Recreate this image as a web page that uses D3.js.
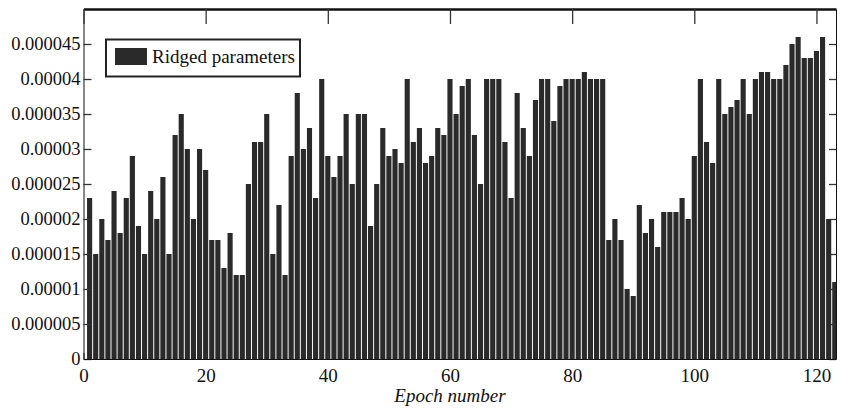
<!DOCTYPE html>
<html>
<head>
<meta charset="utf-8">
<script src="https://cdn.jsdelivr.net/npm/d3@7"></script>
<style>
  body { margin: 0; background: #fff; }
  svg { display: block; font-family: "Liberation Serif", "Times New Roman", serif; }
</style>
</head>
<body>
<svg id="chart"></svg>
<script>
// ridged parameter per epoch
var ridged = [
  23e-6, 15e-6, 20e-6, 17e-6, 24e-6, 18e-6, 23e-6, 29e-6, 19e-6, 15e-6,
  24e-6, 20e-6, 26e-6, 15e-6, 32e-6, 35e-6, 30e-6, 20e-6, 30e-6, 27e-6,
  17e-6, 17e-6, 13e-6, 18e-6, 12e-6, 12e-6, 25e-6, 31e-6, 31e-6, 35e-6,
  15e-6, 22e-6, 12e-6, 29e-6, 38e-6, 30e-6, 33e-6, 23e-6, 40e-6, 29e-6,
  26e-6, 29e-6, 35e-6, 25e-6, 35e-6, 35e-6, 19e-6, 25e-6, 33e-6, 29e-6,
  30e-6, 28e-6, 40e-6, 31e-6, 33e-6, 28e-6, 29e-6, 33e-6, 32e-6, 40e-6,
  35e-6, 39e-6, 40e-6, 32e-6, 25e-6, 40e-6, 40e-6, 40e-6, 31e-6, 23e-6,
  38e-6, 33e-6, 29e-6, 37e-6, 40e-6, 40e-6, 34e-6, 39e-6, 40e-6, 40e-6,
  40e-6, 41e-6, 40e-6, 40e-6, 40e-6, 17e-6, 20e-6, 17e-6, 10e-6, 9e-6,
  22e-6, 18e-6, 20e-6, 16e-6, 21e-6, 21e-6, 21e-6, 23e-6, 20e-6, 29e-6,
  40e-6, 31e-6, 28e-6, 40e-6, 35e-6, 36e-6, 37e-6, 40e-6, 35e-6, 40e-6,
  41e-6, 41e-6, 40e-6, 40e-6, 42e-6, 45e-6, 46e-6, 43e-6, 43e-6, 44e-6,
  46e-6, 20e-6, 11e-6
];
var epochs = ridged.map(function(d, i) { return i + 1; });

var xTicks = [0, 20, 40, 60, 80, 100, 120];
var yTicks = [0, 0.000005, 0.00001, 0.000015, 0.00002, 0.000025, 0.00003, 0.000035, 0.00004, 0.000045];
var yTickLabels = ["0", "0.000005", "0.00001", "0.000015", "0.00002", "0.000025", "0.00003", "0.000035", "0.00004", "0.000045"];
var seriesName = "Ridged parameters";
var xTitle = "Epoch number";

var width = 843, height = 411;
var margin = { top: 9, right: 7, bottom: 52, left: 83.5 };
var serif = "'Liberation Serif', 'Times New Roman', serif";

var svg = d3.select("#chart")
  .attr("width", width)
  .attr("height", height);

var x = d3.scaleLinear().domain([0, 123.2]).range([margin.left, width - margin.right]);
var y = d3.scaleLinear().domain([0, 0.00005]).range([height - margin.bottom, margin.top]);

var step = x(1) - x(0);
var barW = step * 0.84;

svg.append("clipPath")
  .attr("id", "plot-clip")
  .append("rect")
  .attr("x", x(0))
  .attr("y", y(0.00005))
  .attr("width", x.range()[1] - x(0))
  .attr("height", y(0) - y(0.00005));

// bars
svg.append("g")
  .attr("clip-path", "url(#plot-clip)")
  .selectAll("rect")
  .data(ridged)
  .join("rect")
  .attr("x", function(d, i) { return x(epochs[i]) - barW / 2; })
  .attr("y", function(d) { return y(d); })
  .attr("width", barW)
  .attr("height", function(d) { return y(0) - y(d); })
  .attr("fill", "#2a2a2a");

// axes
var fmtY = function(d) { return yTickLabels[yTicks.indexOf(d)]; };

svg.append("g")
  .attr("transform", "translate(" + x(0) + ",0)")
  .call(d3.axisLeft(y).tickValues(yTicks).tickFormat(fmtY).tickSizeInner(-8).tickSizeOuter(0).tickPadding(3))
  .attr("font-family", serif)
  .call(function(g) { g.selectAll("text").attr("font-size", 18.5).attr("fill", "#111"); });

svg.append("g")
  .attr("transform", "translate(" + x.range()[1] + ",0)")
  .call(d3.axisRight(y).tickValues(yTicks).tickFormat("").tickSizeInner(-7).tickSizeOuter(0));

svg.append("g")
  .attr("transform", "translate(0," + y(0) + ")")
  .call(d3.axisBottom(x).tickValues(xTicks).tickFormat(d3.format("d")).tickSizeInner(-6).tickSizeOuter(0).tickPadding(10))
  .attr("font-family", serif)
  .call(function(g) { g.selectAll("text").attr("font-size", 19).attr("fill", "#111"); });

svg.append("g")
  .attr("transform", "translate(0," + y(0.00005) + ")")
  .call(d3.axisTop(x).tickValues(xTicks).tickFormat("").tickSizeInner(-15).tickSizeOuter(0))
  .call(function(g) { g.select(".domain").attr("stroke-width", 2.5); });

svg.selectAll(".domain").attr("stroke", "#111");
svg.selectAll(".tick line").attr("stroke", "#333").attr("stroke-width", 1.3);

// x title
svg.append("text")
  .attr("x", x(60))
  .attr("y", 402)
  .attr("text-anchor", "middle")
  .attr("font-size", 19)
  .attr("font-style", "italic")
  .attr("fill", "#111")
  .text(xTitle);

// legend
var legend = svg.append("g");
legend.append("rect")
  .attr("x", 106)
  .attr("y", 39.5)
  .attr("width", 194)
  .attr("height", 37)
  .attr("fill", "#fff")
  .attr("stroke", "#222")
  .attr("stroke-width", 2);
legend.append("rect")
  .attr("x", 115)
  .attr("y", 48)
  .attr("width", 32)
  .attr("height", 17)
  .attr("fill", "#2a2a2a");
legend.append("text")
  .attr("x", 152)
  .attr("y", 63)
  .attr("font-size", 19)
  .attr("fill", "#111")
  .text(seriesName);
</script>
</body>
</html>
